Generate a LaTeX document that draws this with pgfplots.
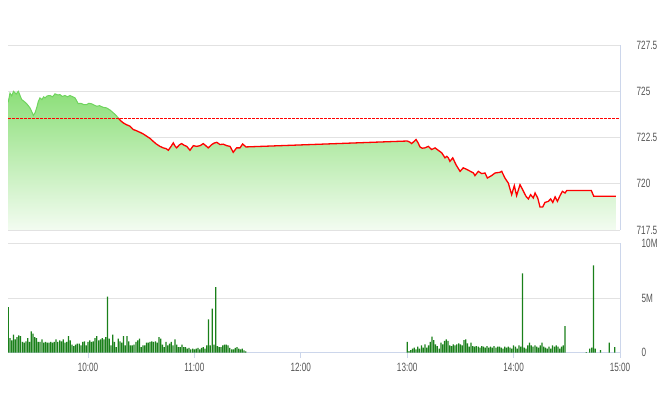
\documentclass[border=0pt]{standalone}
\usepackage{fontspec}
\setmainfont{Liberation Sans}[FakeStretch=0.68]
\usepackage{pgfplots}
\pgfplotsset{compat=1.18}
\usepackage{pgfplotstable}
\definecolor{gridc}{HTML}{E2E2E2}
\definecolor{axisc}{HTML}{CCD6EB}
\definecolor{labc}{HTML}{555555}
\definecolor{volc}{HTML}{1A801A}
\definecolor{linegreen}{HTML}{6FD45E}
\definecolor{filltop}{HTML}{8CDF79}
\definecolor{fillbot}{HTML}{F3FCF1}

\pgfplotstableread{
m v
15.0 724.40
16.0 724.90
17.0 724.75
18.0 725.00
19.5 724.85
20.7 725.00
22.6 724.55
24.0 724.45
25.4 724.33
27.3 724.10
28.5 723.85
29.2 723.69
30.2 723.85
31.1 724.12
32.0 724.45
32.9 724.64
34.0 724.55
35.0 724.70
35.75 724.64
37.0 724.75
38.6 724.77
40.0 724.70
41.4 724.86
43.0 724.80
44.2 724.82
45.5 724.72
47.0 724.77
48.5 724.70
49.8 724.77
51.0 724.72
52.7 724.64
54.5 724.33
56.0 724.35
57.5 724.28
59.3 724.28
60.5 724.35
62.1 724.32
63.5 724.25
64.9 724.19
66.5 724.22
68.6 724.13
70.5 724.10
72.5 723.98
74.3 723.83
75.8 723.70
77.1 723.55
78.5 723.40
79.9 723.29
81.5 723.20
83.7 723.11
85.5 722.93
87.0 722.88
89.3 722.78
91.0 722.70
93.1 722.57
95.0 722.45
96.8 722.29
98.5 722.15
100.6 722.02
102.4 721.94
104.0 721.90
105.3 721.81
106.7 722.00
108.1 722.21
109.0 722.05
110.0 721.94
111.5 722.10
112.8 722.17
114.2 722.08
115.7 722.02
117.5 721.81
119.4 722.06
121.3 722.02
123.2 722.06
125.0 722.17
126.5 722.05
127.8 721.94
129.8 722.12
131.2 722.20
132.6 722.24
134.4 722.12
136.3 722.14
138.2 722.06
140.1 722.02
141.9 721.70
143.8 721.94
145.7 721.94
147.2 722.15
149.1 721.99
240.0 722.31
241.5 722.25
242.5 722.17
244.0 722.30
245.0 722.39
246.2 722.20
247.2 721.99
248.5 721.92
250.0 721.94
251.9 722.02
253.8 721.85
255.7 721.94
257.5 721.81
259.5 721.67
261.3 721.40
262.3 721.48
263.2 721.40
264.1 721.21
265.7 721.40
267.5 721.03
269.8 720.67
271.6 720.86
273.0 720.80
274.5 720.73
276.0 720.65
277.3 720.59
278.2 720.44
280.1 720.67
282.0 720.55
283.9 720.58
285.2 720.31
287.6 720.44
289.5 720.58
292.3 720.62
293.3 720.67
295.1 720.31
297.0 720.04
298.9 719.41
300.4 719.90
301.7 719.36
303.6 719.95
305.1 719.68
307.0 719.32
308.3 719.18
309.6 719.41
311.1 719.23
312.1 719.50
313.6 719.23
314.9 718.74
316.4 718.74
317.7 718.99
319.6 719.05
320.9 719.18
322.1 718.99
323.4 719.29
324.7 719.05
326.2 719.36
327.5 719.59
329.0 719.50
330.0 719.64
343.8 719.64
345.2 719.32
357.6 719.32
}\price

\pgfplotstableread{
m v
15 4.17
16 1.34
17 1.13
18 1.65
19 1.22
20 1.43
21 1.58
22 1.52
23 0.98
24 0.91
25 1.04
26 1.34
27 0.98
28 1.95
29 1.74
30 1.43
31 1.34
32 0.98
33 0.98
34 1.22
35 0.91
36 0.98
37 0.91
38 0.91
39 0.98
40 0.91
41 0.98
42 1.22
43 0.98
44 1.13
45 1.04
46 1.22
47 0.91
48 0.98
49 1.52
50 1.13
51 0.73
52 0.61
53 0.73
54 0.82
55 0.82
56 0.67
57 0.98
58 1.04
59 0.67
60 0.98
61 1.13
62 0.98
63 1.04
64 1.34
65 1.52
66 1.13
67 1.22
68 1.34
69 1.22
70 1.43
71 5.12
72 1.28
73 0.67
74 1.65
75 0.98
76 0.52
77 1.28
78 1.04
79 0.91
80 1.52
81 0.67
82 1.52
83 1.04
84 0.67
85 0.67
86 0.73
87 0.98
88 1.13
89 1.28
90 0.52
91 0.67
92 0.67
93 0.91
94 0.91
95 0.98
96 1.04
97 0.98
98 1.04
99 0.91
100 1.43
101 1.28
102 0.73
103 0.52
104 0.98
105 0.67
106 0.82
107 0.98
108 0.67
109 1.22
110 0.73
111 0.52
112 0.52
113 0.73
114 0.52
115 0.52
116 0.37
117 0.43
118 0.30
119 0.37
120 0.30
121 0.37
122 0.43
123 0.30
124 0.43
125 0.52
126 0.37
127 0.67
128 3.05
129 0.67
130 4.02
131 0.73
132 6.00
133 0.61
134 0.52
135 0.52
136 0.67
137 0.73
138 0.73
139 0.67
140 0.43
141 0.30
142 0.30
143 0.43
144 0.52
145 0.37
146 0.30
147 0.37
148 0.21
149 0.12
240 0.98
241 0.15
242 0.24
243 0.37
244 0.46
245 0.30
246 0.55
247 0.37
248 0.67
249 0.46
250 0.76
251 0.46
252 0.67
253 0.98
254 1.46
255 1.16
256 0.76
257 0.61
258 0.37
259 0.91
260 0.76
261 1.07
262 1.22
263 1.07
264 0.67
265 0.61
266 0.76
267 0.67
268 0.76
269 0.85
270 0.76
271 0.67
272 1.16
273 1.22
274 0.85
275 0.55
276 0.91
277 0.61
278 0.55
279 0.61
280 0.55
281 0.46
282 0.61
283 0.55
284 0.46
285 0.61
286 0.46
287 0.55
288 0.46
289 0.61
290 0.46
291 0.55
292 0.55
293 0.46
294 0.37
295 0.55
296 0.46
297 0.55
298 0.46
299 0.37
300 0.67
301 0.55
302 0.37
303 0.67
304 0.55
305 7.25
306 0.46
307 0.37
308 0.67
309 0.91
310 0.67
311 0.55
312 0.67
313 0.55
314 0.46
315 0.67
316 0.91
317 0.55
318 0.46
319 0.37
320 0.55
321 0.37
322 0.67
323 0.55
324 0.67
325 0.55
326 0.37
327 0.55
328 0.67
329 2.44
341 0.06
343 0.37
344 0.46
345 7.98
346 0.37
349 0.24
354 0.91
357 0.52
}\vol

\pgfplotsset{
  panel/.style={
    scale only axis, width=611.8pt,
    xmin=15, xmax=360,
    axis y line*=right,
    y axis line style={draw=axisc, line width=0.8pt},
    ymajorgrids,
    grid style={draw=gridc, line width=0.8pt},
    ytick style={draw=none},
    ticklabel style={font=\fontsize{12}{14}\selectfont, text=labc},
    yticklabel style={anchor=west, inner sep=0pt, xshift=16.5pt},
  }
}

\begin{document}
\begin{tikzpicture}
\path[use as bounding box] (0,0) rectangle (660pt,412pt);

\begin{axis}[panel,
  at={(8.2pt,182pt)}, anchor=south west,
  height=185pt,
  axis x line=none,
  xtick=\empty,
  ymin=717.5, ymax=727.5,
  ytick={717.5,720,722.5,725,727.5},
  yticklabels={717.5,720,722.5,725,727.5},
]
\addplot[draw=none, top color=filltop, bottom color=fillbot] table[x=m,y=v]{\price} \closedcycle;
\addplot[red, line width=0.8pt, dash pattern=on 2.5pt off 1.5pt] coordinates {(15,723.55) (360,723.55)};
\addplot[linegreen, line width=1pt, restrict x to domain=15:77.1] table[x=m,y=v]{\price};
\addplot[red, line width=1.3pt, restrict x to domain=77.1:360] table[x=m,y=v]{\price};
\end{axis}

\begin{axis}[panel,
  at={(8.2pt,59.3pt)}, anchor=south west,
  height=109.4pt,
  axis x line*=bottom,
  x axis line style={draw=axisc, line width=0.8pt},
  xtick={60,120,180,240,300,360},
  xticklabels={10:00,11:00,12:00,13:00,14:00,15:00},
  xtick style={draw=axisc, line width=0.8pt},
  tick align=outside, major tick length=5pt,
  xticklabel style={yshift=-2pt},
  ymin=0, ymax=10,
  ytick={0,5,10},
  yticklabels={0,5M,10M},
]
\addplot[ybar, bar width=1.25pt, fill=volc, draw=none] table[x=m,y=v]{\vol};
\end{axis}
\end{tikzpicture}
\end{document}
